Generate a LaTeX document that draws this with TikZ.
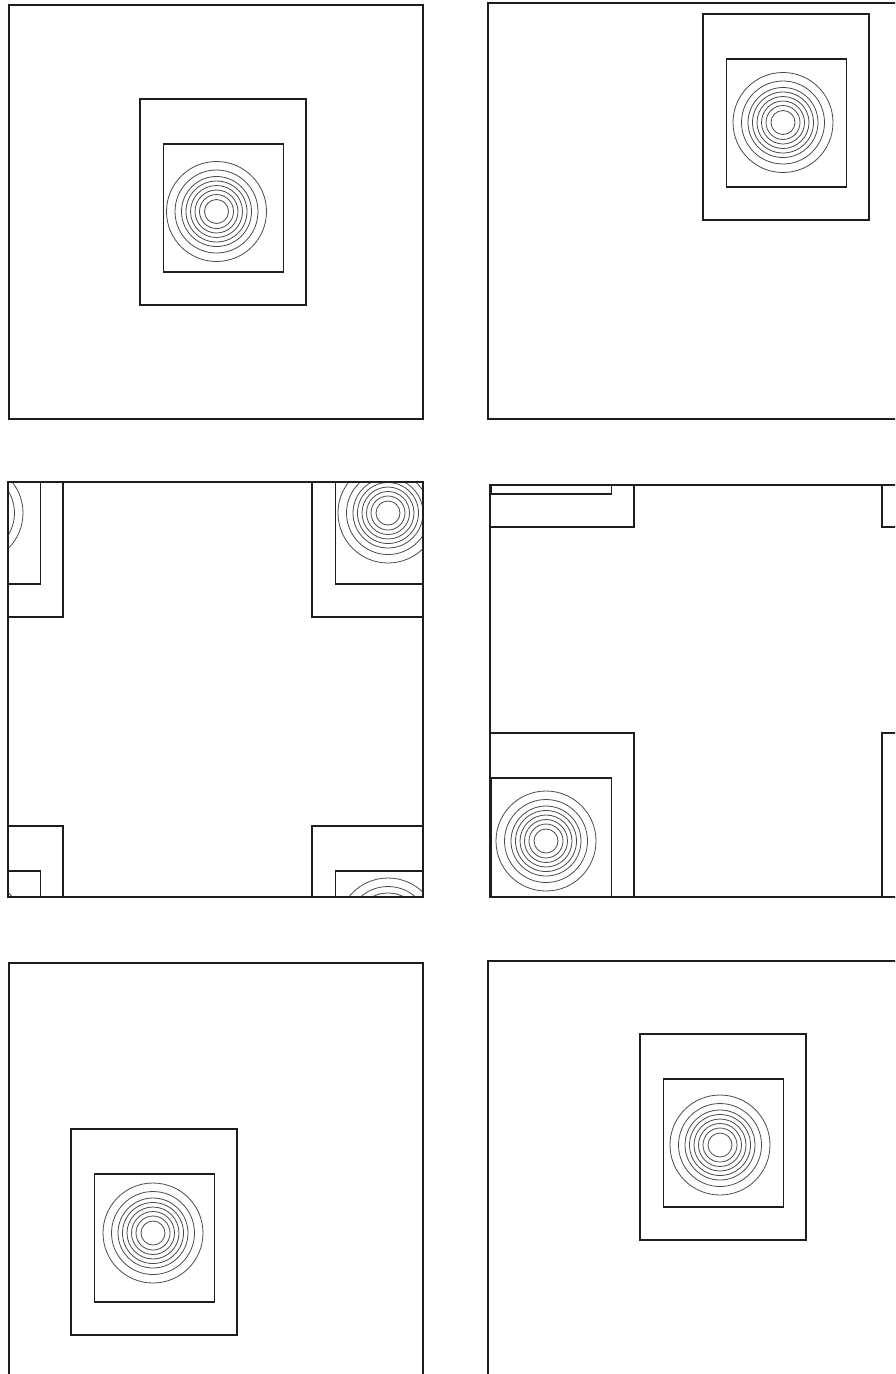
\documentclass[tikz,border=0pt]{standalone}
\usepackage{xcolor}
\usepackage{tikz}
\usetikzlibrary{calc}
\definecolor{framegray}{HTML}{1E1E1E}
\definecolor{ringgray}{HTML}{4A4A4A}

% one cell: outer box at (#1,#2), ring centre at (#3,#4)
\newcommand{\blobcell}[4]{%
  \draw[boxline] (#1,#2) rectangle ++(166,206);
  \draw[boxline] ($(#1,#2)+(23.5,45)$) rectangle ++(120,128);
  \foreach \r in {50,41.5,35,30.5,26,21.5,17,12}
    \draw[ring] (#3,#4) circle[radius=\r pt];
}

\begin{document}
\begin{tikzpicture}[
  x=1pt,y=-1pt,
  frame/.style={draw=framegray,line width=1.4pt},
  boxline/.style={draw=framegray,line width=1.2pt},
  ring/.style={draw=ringgray,line width=0.8pt}
]
  \useasboundingbox (0,0) rectangle (895,1374);
  \clip (0,0) rectangle (895,1374);
  \fill[white] (0,0) rectangle (895,1374);

  % top row
  \blobcell{140}{99}{216.5}{211.5}
  \draw[frame] (9,5) rectangle (423,419);
  \blobcell{703}{14}{783}{122.5}
  \draw[frame] (488,3) rectangle (902,419);

  % middle row, periodic wrap
  \begin{scope}
    \clip (8,482) rectangle (423,897);
    \foreach \dx in {-415,0,415}
      \foreach \dy in {-415,0,415}{
        \begin{scope}[shift={(\dx,\dy)}]
          \blobcell{312}{411}{388}{513}
        \end{scope}
      }
  \end{scope}
  \draw[frame] (8,482) rectangle (423,897);
  \begin{scope}
    \clip (490,485) rectangle (904,897);
    \foreach \dx in {-414,0,414}
      \foreach \dy in {-412,0,412}{
        \begin{scope}[shift={(\dx,\dy)}]
          \blobcell{468}{733}{546}{841}
        \end{scope}
      }
  \end{scope}
  \draw[frame] (490,485) rectangle (904,897);

  % bottom row
  \blobcell{71}{1129}{153}{1233}
  \draw[frame] (9,963) rectangle (423,1377);
  \blobcell{640}{1034}{720}{1145}
  \draw[frame] (488,961) rectangle (902,1375);
\end{tikzpicture}
\end{document}
